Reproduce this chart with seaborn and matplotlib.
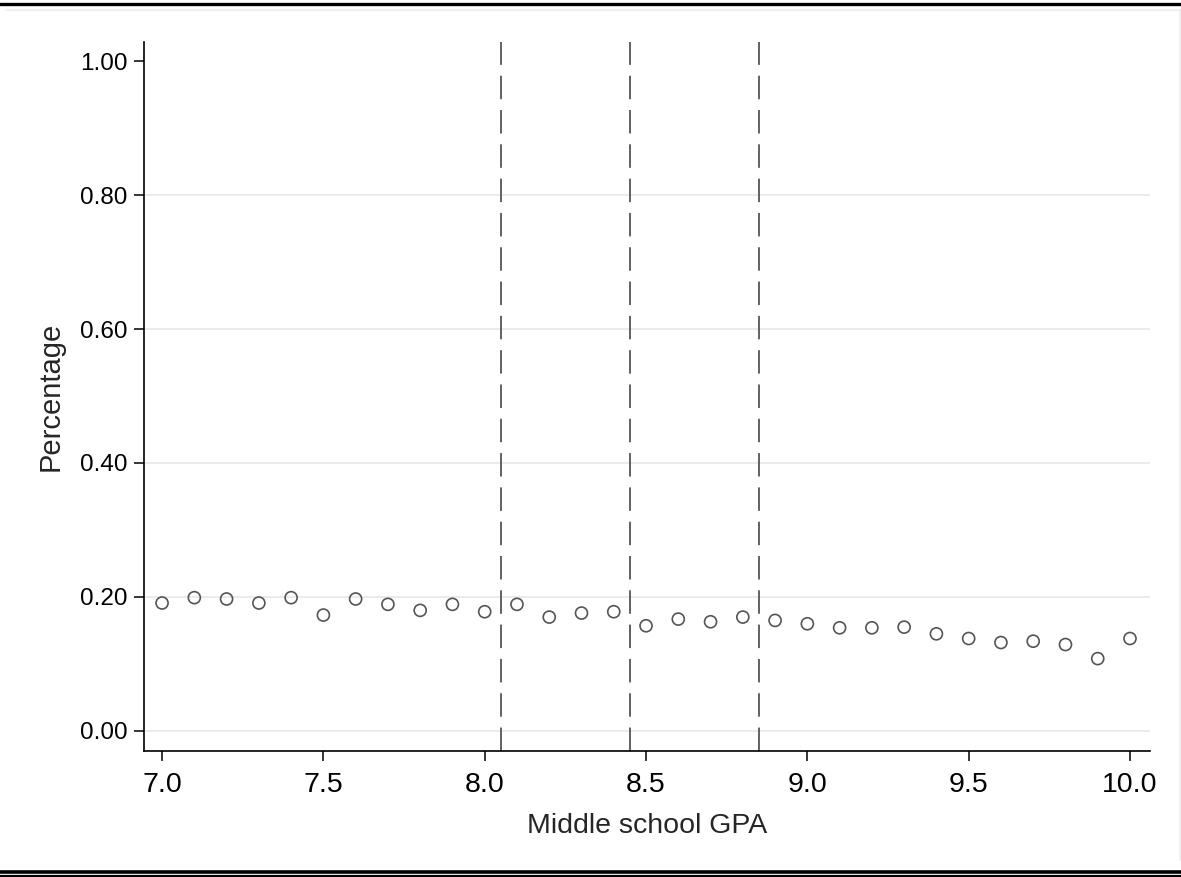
import matplotlib
matplotlib.use("Agg")
import matplotlib.pyplot as plt
from matplotlib.lines import Line2D
import seaborn as sns
import pandas as pd

gpa = [7.0, 7.1, 7.2, 7.3, 7.4, 7.5, 7.6, 7.7, 7.8, 7.9, 8.0, 8.1, 8.2, 8.3, 8.4,
       8.5, 8.6, 8.7, 8.8, 8.9, 9.0, 9.1, 9.2, 9.3, 9.4, 9.5, 9.6, 9.7, 9.8, 9.9, 10.0]
pct = [0.191, 0.199, 0.197, 0.191, 0.199, 0.173, 0.197, 0.189, 0.180, 0.189, 0.178,
       0.189, 0.170, 0.176, 0.178, 0.157, 0.167, 0.163, 0.170, 0.165, 0.160, 0.154,
       0.154, 0.155, 0.145, 0.138, 0.132, 0.134, 0.129, 0.108, 0.138]
cutoffs = [8.05, 8.45, 8.85]
xticks = [7.0, 7.5, 8.0, 8.5, 9.0, 9.5, 10.0]
yticks = [0.0, 0.2, 0.4, 0.6, 0.8, 1.0]

df = pd.DataFrame({"gpa": gpa, "pct": pct})

sns.set_theme(style="white")
plt.rcParams["font.family"] = ["Liberation Sans", "DejaVu Sans"]

fig = plt.figure(figsize=(11.81, 8.77), dpi=100)
ax = fig.add_axes([144 / 1181, 1 - 751 / 877, (1150 - 144) / 1181, (751 - 42) / 877])

for y in yticks[:-1]:
    ax.axhline(y, color="#e8e8e8", lw=1.2, zorder=0)

for c in cutoffs:
    ax.axvline(c, color="#555555", lw=1.3, dashes=(13, 6), zorder=1)

sns.scatterplot(data=df, x="gpa", y="pct", ax=ax, marker="o", s=75,
                facecolor="none", edgecolor="#555555", linewidth=1.2, zorder=3)

ax.set_xlim(6.944, 10.062)
ax.set_ylim(-0.0299, 1.0284)
ax.set_xticks(xticks)
ax.set_xticklabels([f"{v:.1f}" for v in xticks])
ax.set_yticks(yticks)
ax.set_yticklabels([f"{v:.2f}" for v in yticks])
ax.set_xlabel("Middle school GPA", fontsize=20.5, labelpad=11)
ax.set_ylabel("Percentage", fontsize=21, labelpad=11)

for s in ["top", "right"]:
    ax.spines[s].set_visible(False)
for s in ["left", "bottom"]:
    ax.spines[s].set_color("black")
    ax.spines[s].set_linewidth(1.2)
ax.tick_params(axis="both", which="major", direction="out", length=7, width=1.1,
               color="black", labelcolor="black", left=True, bottom=True)
ax.tick_params(axis="x", labelsize=20.5, pad=8)
ax.tick_params(axis="y", labelsize=17.5, pad=5)

# decorative frame lines
H = 877.0
W = 1181.0
fig.add_artist(Line2D([0, 1], [1 - 3.5 / H, 1 - 3.5 / H], color="black", lw=2.4,
                      transform=fig.transFigure))
fig.add_artist(Line2D([0.005, 1 - 1.5 / W], [1 - 10 / H, 1 - 10 / H], color="#eeeeee", lw=1.2,
                      transform=fig.transFigure))
fig.add_artist(Line2D([1 - 1.5 / W, 1 - 1.5 / W], [1 - 10 / H, 1 - 860 / H], color="#eeeeee", lw=1.2,
                      transform=fig.transFigure))
fig.add_artist(Line2D([0, 1], [1 - 871.5 / H, 1 - 871.5 / H], color="black", lw=2.6,
                      transform=fig.transFigure))
fig.add_artist(Line2D([0, 1], [1 - 876 / H, 1 - 876 / H], color="black", lw=1.6,
                      transform=fig.transFigure))

fig.savefig("out.png", dpi=100)
